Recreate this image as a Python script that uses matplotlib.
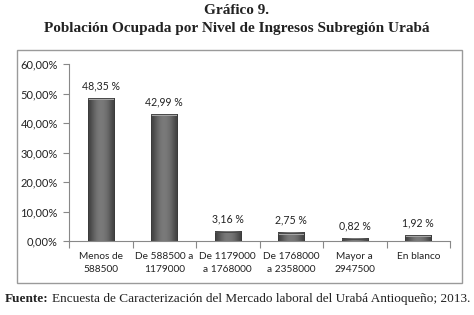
import matplotlib
matplotlib.use("Agg")
import matplotlib.pyplot as plt
import numpy as np
from matplotlib.patches import Rectangle

categories = ["Menos de\n588500", "De 588500 a\n1179000", "De 1179000\na 1768000",
              "De 1768000\na 2358000", "Mayor a\n2947500", "En blanco"]
values = [48.35, 42.99, 3.16, 2.75, 0.82, 1.92]
value_labels = ["48,35 %", "42,99 %", "3,16 %", "2,75 %", "0,82 %", "1,92 %"]
y_ticks = [0, 10, 20, 30, 40, 50, 60]
y_tick_labels = ["0,00%", "10,00%", "20,00%", "30,00%", "40,00%", "50,00%", "60,00%"]

sans = ["Lato", "DejaVu Sans"]
serif = ["Liberation Serif", "DejaVu Serif"]

fig = plt.figure(figsize=(4.74, 3.15), dpi=100)
fig.patch.set_facecolor("white")

# chart frame
fig.add_artist(Rectangle((0.036, 0.1016), 0.939, 0.7397, transform=fig.transFigure,
                         fill=False, edgecolor="#9a9a9a", linewidth=1.0))

ax = fig.add_axes([0.1456, 0.2349, 0.8038, 0.5619])
x = np.arange(len(values))
bw = 0.41

# bars with a horizontal shading gradient
grad = np.array([[0.26, 0.34, 0.42, 0.47, 0.48, 0.46, 0.42, 0.34, 0.26]])
for xi, v in zip(x, values):
    ax.imshow(grad, cmap="gray", vmin=0, vmax=1, aspect="auto",
              extent=(xi - bw / 2, xi + bw / 2, 0, v), zorder=2, interpolation="bicubic")
    ax.add_patch(Rectangle((xi - bw / 2, v - min(0.6, v * 0.4)), bw, min(0.6, v * 0.4),
                           facecolor="#a5a5a5", edgecolor="none", zorder=3))
    ax.add_patch(Rectangle((xi - bw / 2, 0), bw, v, fill=False,
                           edgecolor="#3a3a3a", linewidth=0.6, zorder=4))

for xi, v, lab in zip(x, values, value_labels):
    ax.text(xi, v + 2.4, lab, ha="center", va="bottom", fontsize=7.6,
            family=sans, color="#222222")

ax.set_xlim(-0.5, len(values) - 0.5)
ax.set_ylim(0, 60)
ax.set_yticks(y_ticks)
ax.set_yticklabels(y_tick_labels, family=sans, fontsize=8, color="#222222")
ax.set_xticks(np.arange(-0.5, len(values), 1.0))
ax.set_xticklabels([])
ax.set_xticks(x, minor=True)
ax.set_xticklabels(categories, minor=True, family=sans, fontsize=7.3, color="#222222",
                   linespacing=1.5)
ax.tick_params(axis="x", which="major", length=5, color="#888888", direction="out")
ax.tick_params(axis="x", which="minor", length=0, pad=8)
ax.tick_params(axis="y", length=4, color="#888888", pad=4)

for s in ["top", "right"]:
    ax.spines[s].set_visible(False)
for s in ["left", "bottom"]:
    ax.spines[s].set_color("#888888")
    ax.spines[s].set_linewidth(0.8)
ax.set_facecolor("none")

fig.text(0.5, 0.966, "Gráfico 9.", ha="center", va="center", family=serif,
         fontsize=11, fontweight="bold", color="#222222")
fig.text(0.5, 0.910, "Población Ocupada por Nivel de Ingresos Subregión Urabá",
         ha="center", va="center", family=serif, fontsize=11, fontweight="bold",
         color="#222222")

t1 = fig.text(0.011, 0.052, "Fuente:", ha="left", va="center", family=serif,
              fontsize=9.5, fontweight="bold", color="#222222")
fig.canvas.draw()
bb = t1.get_window_extent(renderer=fig.canvas.get_renderer())
x1 = fig.transFigure.inverted().transform((bb.x1, bb.y0))[0]
fig.text(x1 + 0.006, 0.052,
         "Encuesta de Caracterización del Mercado laboral del Urabá Antioqueño; 2013.",
         ha="left", va="center", family=serif, fontsize=9.5, color="#222222")

fig.savefig("out.png", dpi=100, facecolor="white")
